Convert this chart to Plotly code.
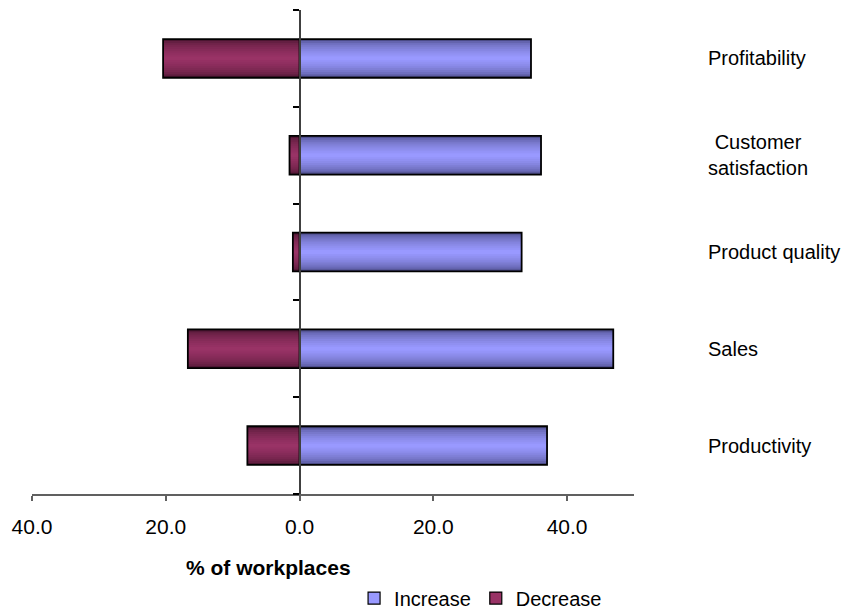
import plotly.graph_objects as go

# Survey results: share of workplaces reporting a change, by outcome
categories = ["Productivity", "Sales", "Product quality", "Customer<br>satisfaction", "Profitability"]
increase = [37.0, 46.9, 33.2, 36.1, 34.6]
decrease = [7.8, 16.7, 1.0, 1.5, 20.4]

tick_vals = [-40, -20, 0, 20, 40]
tick_text = ["40.0", "20.0", "0.0", "20.0", "40.0"]

FONT = "Arial, Liberation Sans, sans-serif"
BAR_W = 0.4
N_LAYERS = 10


def mix(c1, c2, t):
    a = [int(c1[i:i + 2], 16) for i in (1, 3, 5)]
    b = [int(c2[i:i + 2], 16) for i in (1, 3, 5)]
    return "rgb({},{},{})".format(*[round(a[i] + (b[i] - a[i]) * t) for i in range(3)])


def shaded_bars(fig, values, edge, centre):
    # Stacked narrower layers give each bar a light centre and dark edges
    for k in range(N_LAYERS):
        t = (k / (N_LAYERS - 1)) ** 0.5
        fig.add_trace(go.Bar(
            x=values, y=categories, orientation="h",
            width=BAR_W * (1 - k / N_LAYERS),
            marker=dict(color=mix(edge, centre, t), line=dict(width=0)),
            showlegend=False, hoverinfo="skip",
        ))
    fig.add_trace(go.Bar(
        x=values, y=categories, orientation="h", width=BAR_W,
        marker=dict(color="rgba(0,0,0,0)", line=dict(color="black", width=1.8)),
        showlegend=False, hoverinfo="skip",
    ))


fig = go.Figure()
shaded_bars(fig, increase, "#4a4a85", "#9999ff")
shaded_bars(fig, [-v for v in decrease], "#4a1530", "#993366")

# Legend entries
for name, col in [("Increase", "#9999ff"), ("Decrease", "#993366")]:
    fig.add_trace(go.Bar(
        x=[None], y=[None], orientation="h", name=name,
        marker=dict(color=col, line=dict(color="black", width=1.2)),
    ))

x0_frac = (0 - (-40)) / (50 - (-40))

fig.update_layout(
    width=849, height=609,
    margin=dict(l=32, r=215, t=10, b=115, autoexpand=False),
    paper_bgcolor="white", plot_bgcolor="white",
    barmode="overlay",
    font=dict(family=FONT, size=20, color="black"),
    showlegend=True,
    legend=dict(
        orientation="h", x=0.535, y=-0.215, xanchor="left", yanchor="middle",
        font=dict(size=20), itemwidth=30, tracegroupgap=0,
        bgcolor="rgba(0,0,0,0)",
    ),
    xaxis=dict(
        range=[-40, 50], tickvals=tick_vals, ticktext=tick_text,
        showgrid=False, zeroline=False,
        showline=True, linecolor="#606060", linewidth=1.5,
        ticks="outside", ticklen=5, tickcolor="#606060", tickwidth=1.5,
        tickfont=dict(size=21), ticklabelstandoff=8,
    ),
    yaxis=dict(
        categoryorder="array", categoryarray=categories,
        anchor="free", position=x0_frac,
        showline=True, linecolor="#404040", linewidth=1.5,
        ticks="outside", ticklen=6, tickcolor="black", tickwidth=1.5,
        tickson="boundaries", showticklabels=False,
        showgrid=False, zeroline=False,
    ),
)

# Category labels to the right of the plot
for cat in categories:
    fig.add_annotation(
        x=1.12, xref="paper", y=cat, yref="y",
        text=cat, showarrow=False, xanchor="left", yanchor="middle",
        align="center", font=dict(size=20),
    )

fig.add_annotation(
    x=0.3925, xref="paper", y=-0.151, yref="paper",
    text="<b>% of workplaces</b>", showarrow=False,
    xanchor="center", yanchor="middle", font=dict(size=21),
)

fig.write_html("out.html")
